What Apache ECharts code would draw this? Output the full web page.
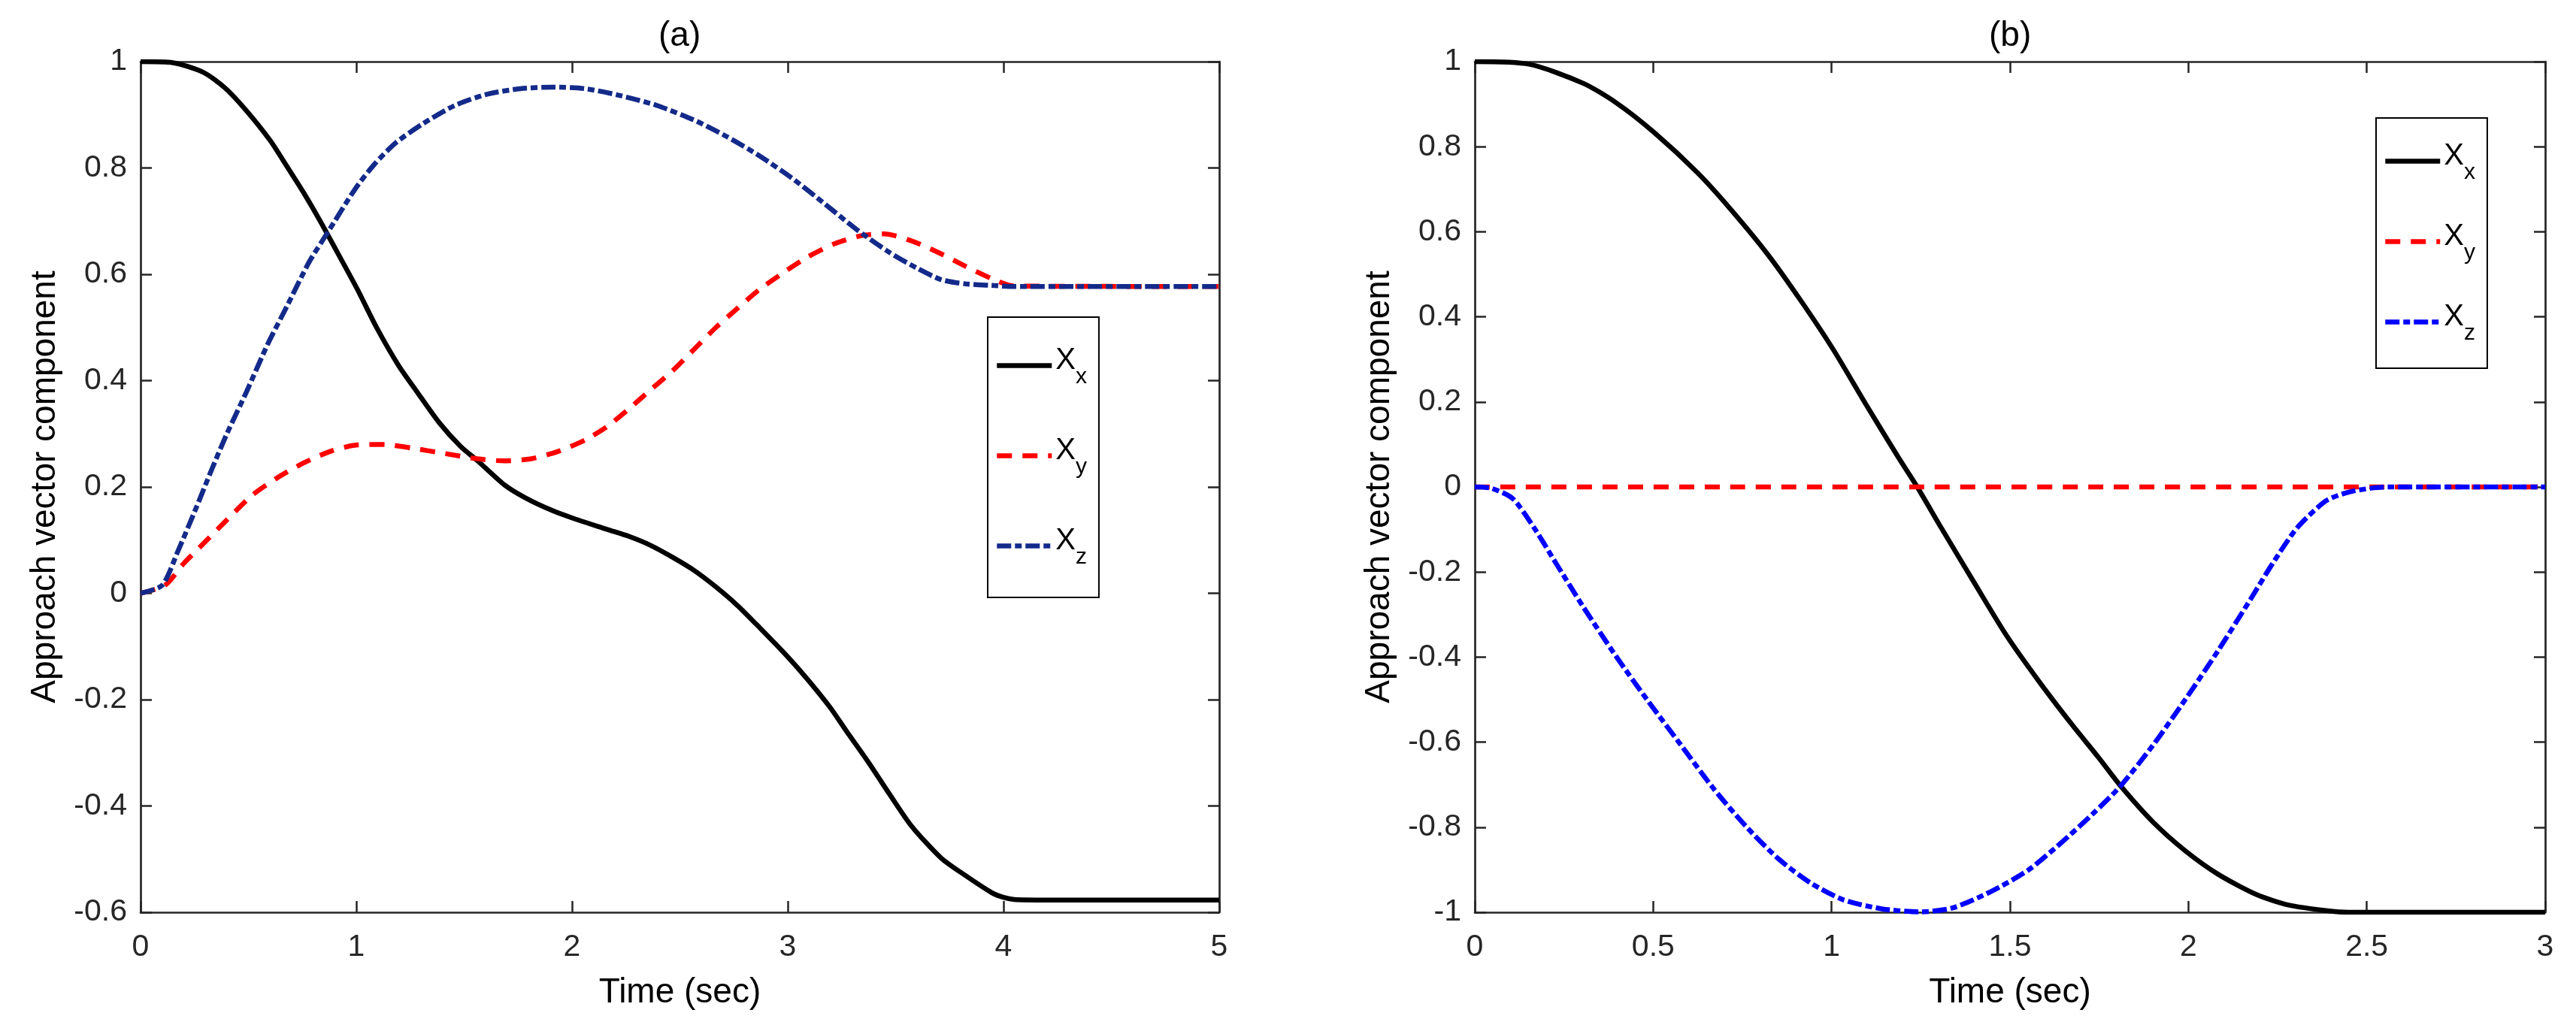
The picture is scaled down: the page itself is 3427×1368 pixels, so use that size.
<!DOCTYPE html>
<html>
<head>
<meta charset="utf-8">
<script src="https://cdn.jsdelivr.net/npm/echarts@6/dist/echarts.min.js"></script>
<style>
html,body{margin:0;padding:0;background:#fff;}
#chart{width:3427px;height:1368px;}
</style>
</head>
<body>
<div id="chart"></div>
<script>
// ---------- Panel (a) data ----------
var aXxTime = [0, 0.15, 0.29, 0.39, 0.49, 0.60, 0.68, 0.755, 0.83, 0.93, 1.006, 1.094, 1.195, 1.283, 1.384, 1.484, 1.56, 1.686, 1.786, 1.912, 2.013, 2.164, 2.264, 2.365, 2.465, 2.566, 2.667, 2.767, 2.868, 2.994, 3.094, 3.195, 3.27, 3.371, 3.472, 3.572, 3.711, 3.824, 3.945, 4.0, 4.05, 4.2, 5];
var aXxVal  = [1, 0.998, 0.98, 0.951, 0.908, 0.852, 0.802, 0.754, 0.702, 0.628, 0.571, 0.5, 0.429, 0.378, 0.321, 0.276, 0.25, 0.204, 0.179, 0.155, 0.14, 0.12, 0.107, 0.09, 0.068, 0.043, 0.012, -0.023, -0.064, -0.117, -0.163, -0.214, -0.258, -0.316, -0.378, -0.437, -0.498, -0.531, -0.563, -0.572, -0.576, -0.577, -0.577];

var aXyTime = [0, 0.113, 0.2, 0.3, 0.4, 0.516, 0.629, 0.755, 0.88, 1.006, 1.132, 1.258, 1.409, 1.56, 1.686, 1.811, 1.937, 2.063, 2.164, 2.264, 2.365, 2.465, 2.566, 2.667, 2.767, 2.868, 2.994, 3.094, 3.22, 3.346, 3.447, 3.572, 3.698, 3.824, 3.945, 4.05, 5];
var aXyVal  = [0, 0.015, 0.056, 0.097, 0.138, 0.184, 0.216, 0.245, 0.267, 0.279, 0.28, 0.273, 0.263, 0.253, 0.249, 0.253, 0.267, 0.289, 0.314, 0.347, 0.383, 0.418, 0.459, 0.5, 0.536, 0.571, 0.607, 0.633, 0.658, 0.673, 0.676, 0.663, 0.641, 0.615, 0.592, 0.578, 0.577];

var aXzTime = [0, 0.1, 0.176, 0.25, 0.327, 0.4, 0.49, 0.59, 0.68, 0.78, 0.868, 0.994, 1.082, 1.182, 1.308, 1.459, 1.61, 1.761, 1.912, 2.063, 2.214, 2.39, 2.566, 2.717, 2.868, 3.019, 3.17, 3.32, 3.472, 3.597, 3.711, 3.824, 3.945, 4.05, 5];
var aXzVal  = [0, 0.015, 0.082, 0.153, 0.23, 0.30, 0.378, 0.469, 0.541, 0.622, 0.679, 0.76, 0.806, 0.847, 0.883, 0.918, 0.939, 0.949, 0.952, 0.949, 0.937, 0.918, 0.89, 0.859, 0.823, 0.781, 0.733, 0.684, 0.641, 0.612, 0.59, 0.582, 0.579, 0.577, 0.577];

// ---------- Panel (b) data ----------
var bXxTime = [0, 0.152, 0.304, 0.395, 0.502, 0.624, 0.715, 0.821, 0.913, 1.004, 1.095, 1.186, 1.24, 1.308, 1.399, 1.49, 1.582, 1.673, 1.749, 1.81, 1.901, 1.992, 2.084, 2.19, 2.281, 2.385, 2.45, 3];
var bXxVal  = [1, 0.994, 0.949, 0.904, 0.834, 0.739, 0.655, 0.547, 0.439, 0.324, 0.196, 0.071, 0, -0.097, -0.224, -0.349, -0.458, -0.558, -0.637, -0.703, -0.788, -0.856, -0.911, -0.958, -0.983, -0.996, -1, -1];

var bXyTime = [0, 3];
var bXyVal  = [0, 0];

var bXzTime = [0, 0.046, 0.106, 0.167, 0.228, 0.304, 0.395, 0.487, 0.578, 0.669, 0.76, 0.852, 0.943, 1.034, 1.141, 1.247, 1.338, 1.445, 1.551, 1.643, 1.734, 1.81, 1.901, 1.992, 2.084, 2.175, 2.236, 2.304, 2.385, 2.45, 2.52, 2.56, 3];
var bXzVal  = [0, -0.003, -0.027, -0.097, -0.18, -0.282, -0.397, -0.505, -0.607, -0.709, -0.798, -0.875, -0.932, -0.971, -0.992, -0.999, -0.99, -0.952, -0.901, -0.837, -0.767, -0.703, -0.607, -0.499, -0.384, -0.263, -0.18, -0.097, -0.033, -0.012, -0.002, 0, 0];

// ---------- Axis ranges / labels ----------
var aXRange = [0, 5, 1];
var aYRange = [-0.6, 1, 0.2];
var bXRange = [0, 3, 0.5];
var bYRange = [-1, 1, 0.2];
var titles = ['(a)', '(b)'];
var xName = 'Time (sec)';
var yName = 'Approach vector component';
var legendLabels = {a_x: 'x', a_y: 'y', a_z: 'z', b_x: 'x', b_y: 'y', b_z: 'z'};

function pairs(t, v) { return t.map(function (x, i) { return [x, v[i]]; }); }

var FONT = "'Liberation Sans', Arial, Helvetica, sans-serif";
var AX = '#262626';
var LW = 6.5;

function mkX(grid, r, main) {
  return {
    type: 'value', gridIndex: grid, min: r[0], max: r[1], interval: r[2],
    position: main ? 'bottom' : 'top',
    name: main ? xName : '', nameLocation: 'middle', nameGap: 84,
    nameTextStyle: {fontSize: 46, color: '#000', fontFamily: FONT},
    axisLine: {show: true, onZero: false, lineStyle: {color: AX, width: 2.7}},
    axisTick: {show: true, inside: true, length: 15, lineStyle: {color: AX, width: 2.5}},
    axisLabel: {show: main, fontSize: 41, color: AX, margin: 26, fontFamily: FONT},
    splitLine: {show: false}
  };
}
function mkY(grid, r, main) {
  return {
    type: 'value', gridIndex: grid, min: r[0], max: r[1], interval: r[2],
    position: main ? 'left' : 'right',
    name: main ? yName : '', nameLocation: 'middle', nameGap: 104,
    nameTextStyle: {fontSize: 46, color: '#000', fontFamily: FONT},
    axisLine: {show: true, onZero: false, lineStyle: {color: AX, width: 2.7}},
    axisTick: {show: true, inside: true, length: 15, lineStyle: {color: AX, width: 2.5}},
    axisLabel: {show: main, fontSize: 41, color: AX, margin: 18, fontFamily: FONT},
    splitLine: {show: false}
  };
}
function mkSeries(name, xi, yi, t, v, color, type) {
  return {
    name: name, type: 'line', xAxisIndex: xi, yAxisIndex: yi,
    data: pairs(t, v), showSymbol: false, symbol: 'none', smooth: 0.25,
    lineStyle: {color: color, width: LW, type: type, cap: 'butt'},
    itemStyle: {color: color}
  };
}

var rich = {
  X: {fontSize: 40, color: '#000', fontFamily: FONT, verticalAlign: 'top', padding: [4, 0, 0, 0]},
  s: {fontSize: 30, color: '#000', fontFamily: FONT, verticalAlign: 'bottom', lineHeight: 61}
};
function mkLegend(names, left, top, pad, gap) {
  return {
    data: names, orient: 'vertical', left: left, top: top,
    padding: pad, itemGap: gap, itemWidth: 73, itemHeight: 20,
    borderColor: '#000', borderWidth: 2, backgroundColor: '#fff',
    selectedMode: false,
    itemStyle: {opacity: 0, borderWidth: 0},
    lineStyle: {width: LW, cap: 'butt'},
    formatter: function (n) { return '{X|X}{s|' + legendLabels[n] + '}'; },
    textStyle: {rich: rich, fontFamily: FONT}
  };
}

var DASH = [20, 14];
var DASHDOT = [19, 5, 9, 5];

var option = {
  animation: false,
  backgroundColor: '#fff',
  textStyle: {fontFamily: FONT},
  title: [
    {text: titles[0], left: 871, top: 20, textStyle: {fontSize: 46, fontWeight: 'normal', color: '#000', fontFamily: FONT}},
    {text: titles[1], left: 2641, top: 20, textStyle: {fontSize: 46, fontWeight: 'normal', color: '#000', fontFamily: FONT}}
  ],
  grid: [
    {left: 187, top: 82, width: 1435, height: 1132, containLabel: false},
    {left: 1962, top: 82, width: 1424, height: 1132, containLabel: false}
  ],
  xAxis: [mkX(0, aXRange, true), mkX(0, aXRange, false), mkX(1, bXRange, true), mkX(1, bXRange, false)],
  yAxis: [mkY(0, aYRange, true), mkY(0, aYRange, false), mkY(1, bYRange, true), mkY(1, bYRange, false)],
  legend: [
    mkLegend(['a_x', 'a_y', 'a_z'], 1314, 422, [38, 16, 38, 9], 63),
    mkLegend(['b_x', 'b_y', 'b_z'], 3161, 157, [31, 16, 31, 9], 50)
  ],
  series: [
    mkSeries('a_x', 0, 0, aXxTime, aXxVal, '#000000', 'solid'),
    mkSeries('a_y', 0, 0, aXyTime, aXyVal, '#ff0000', DASH),
    mkSeries('a_z', 0, 0, aXzTime, aXzVal, '#142a8a', DASHDOT),
    mkSeries('b_x', 2, 2, bXxTime, bXxVal, '#000000', 'solid'),
    mkSeries('b_y', 2, 2, bXyTime, bXyVal, '#ff0000', DASH),
    mkSeries('b_z', 2, 2, bXzTime, bXzVal, '#0000ff', DASHDOT)
  ]
};

var chart = echarts.init(document.getElementById('chart'));
chart.setOption(option);
</script>
</body>
</html>
